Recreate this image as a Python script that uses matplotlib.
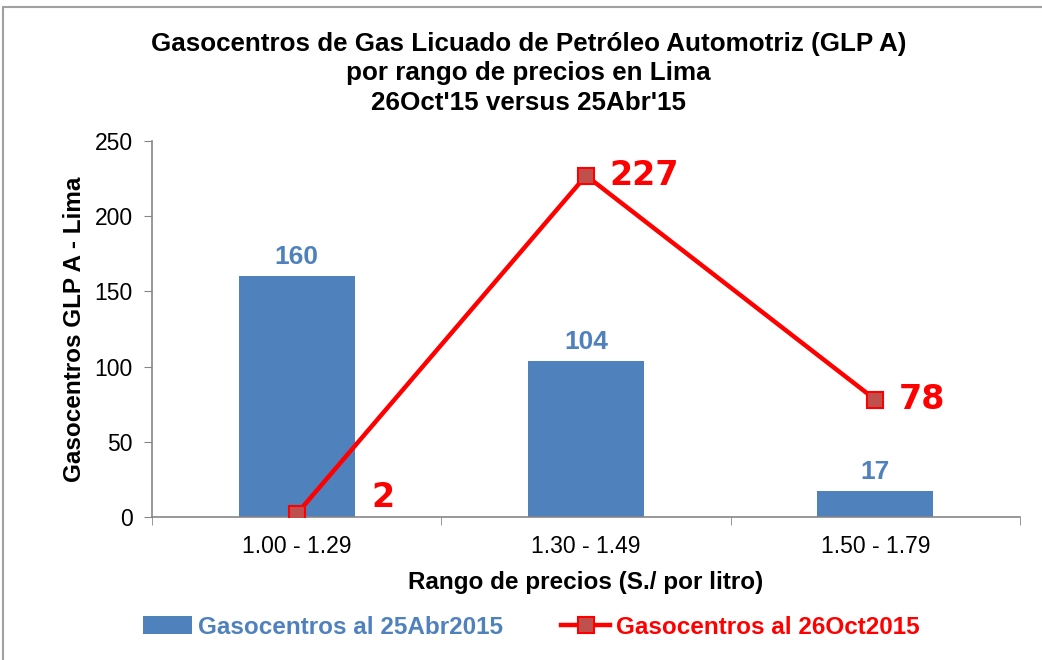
import numpy as np
import matplotlib
matplotlib.use("Agg")
import matplotlib.pyplot as plt
from matplotlib.patches import Rectangle

categories = ["1.00 - 1.29", "1.30 - 1.49", "1.50 - 1.79"]
abr2015 = [160, 104, 17]
oct2015 = [2, 227, 78]

blue = "#4F81BD"
red = "#FF0000"

plt.rcParams['font.family'] = ['Liberation Sans', 'DejaVu Sans']

fig = plt.figure(figsize=(10.42, 6.6), dpi=100)
ax = fig.add_axes([0.1459, 0.2167, 0.833, 0.5697])

x = np.arange(len(categories))
bars = ax.bar(x, abr2015, width=0.4, color=blue, label="Gasocentros al 25Abr2015", zorder=2)
line, = ax.plot(x, oct2015, color=red, lw=3.2, marker="s", ms=12, mfc="#C0504D", mec=red, mew=1.5,
                label="Gasocentros al 26Oct2015", zorder=3)

for xi, v in zip(x, abr2015):
    ax.annotate(str(v), (xi, v), xytext=(0, 5), textcoords="offset points",
                ha="center", va="bottom", color=blue, fontsize=19, fontweight="bold")

# label offsets (points) for the red series, as placed in the original
red_offsets = [(54, 12), (17, 0), (17, 0)]
for xi, v, off in zip(x, oct2015, red_offsets):
    ax.annotate(str(v), (xi, v), xytext=off, textcoords="offset points",
                ha="left", va="center", color=red, fontsize=24, fontweight="bold",
                family="DejaVu Sans")

ax.set_xlim(-0.5, 2.5)
ax.set_ylim(0, 250)
ax.set_yticks(np.arange(0, 251, 50))
ax.set_xticks(x)
ax.set_xticklabels(categories, fontsize=16.5)
ax.set_xticks([-0.5, 0.5, 1.5, 2.5], minor=True)
ax.tick_params(axis="x", which="major", length=0, pad=13)
ax.tick_params(axis="x", which="minor", length=6, color="#868686", direction="out")
ax.tick_params(axis="y", labelsize=16.5, length=6, color="#868686", direction="out", pad=8)

for s in ["top", "right"]:
    ax.spines[s].set_visible(False)
for s in ["left", "bottom"]:
    ax.spines[s].set_color("#868686")
    ax.spines[s].set_linewidth(1.2)

ax.set_xlabel("Rango de precios (S./ por litro)", fontsize=17.5, fontweight="bold", labelpad=9)
ax.set_ylabel("Gasocentros GLP A - Lima", fontsize=17.5, fontweight="bold", labelpad=6)

fig.suptitle("Gasocentros de Gas Licuado de Petróleo Automotriz (GLP A)\npor rango de precios en Lima\n26Oct'15 versus 25Abr'15",
             x=0.507, y=0.952, fontsize=18.7, fontweight="bold", linespacing=1.3)

leg = fig.legend([bars, line], ["Gasocentros al 25Abr2015", "Gasocentros al 26Oct2015"],
                 loc="center", bbox_to_anchor=(0.51, 0.05), ncol=2, frameon=False,
                 prop={"size": 17.5, "weight": "bold"}, handlelength=2.0, columnspacing=2.4,
                 handletextpad=0.25)
leg.get_texts()[0].set_color(blue)
leg.get_texts()[1].set_color(red)

fig.patches.append(Rectangle((0.003, -0.01), 1.2, 1.0, transform=fig.transFigure,
                             fill=False, edgecolor="#A0A0A0", lw=1.5))

fig.savefig("out.png", dpi=100)
